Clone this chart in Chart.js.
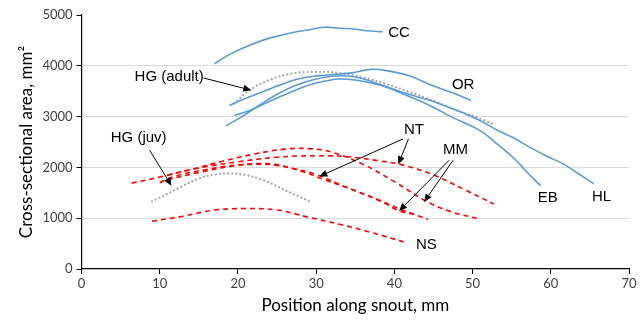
<!DOCTYPE html>
<html><head><meta charset="utf-8">
<script src="https://cdn.jsdelivr.net/npm/chart.js@4/dist/chart.umd.min.js"></script>
<style>html,body{margin:0;padding:0;background:#fff}#wrap{width:644px;height:322px}</style>
</head><body><div id="wrap"><canvas id="c" width="644" height="322"></canvas></div>
<script>
// x positions (mm) and cross-sectional area (mm^2) per specimen
const ccX = [17, 19, 21.3, 23.5, 25.5, 27.5, 29.5, 31, 33, 35, 36.5, 38.5];
const ccY = [4040, 4230, 4390, 4520, 4600, 4670, 4720, 4760, 4740, 4720, 4690, 4670];
const orX = [18.9, 21, 23, 25, 27.2, 29.5, 31.5, 34.5, 37, 39.2, 42, 44.7, 47.6, 49.8];
const orY = [3220, 3360, 3480, 3600, 3720, 3790, 3820, 3860, 3930, 3900, 3800, 3620, 3460, 3320];
const ebX = [19.5, 21.5, 23.5, 25.5, 27.5, 29.5, 31.5, 33, 35, 37, 39, 41.5, 44.5, 47.5, 51, 53, 55.3, 57, 58.7];
const ebY = [3020, 3120, 3260, 3400, 3530, 3640, 3710, 3740, 3720, 3660, 3580, 3420, 3220, 2980, 2720, 2480, 2180, 1900, 1640];
const hlX = [18.5, 20.5, 22.5, 25, 27.5, 30, 32.5, 35, 38, 41, 44.5, 47, 49, 51, 53.3, 55.5, 57.5, 59.5, 61.7, 63.5, 65.5];
const hlY = [2820, 3000, 3200, 3440, 3620, 3740, 3800, 3780, 3640, 3480, 3320, 3180, 3060, 2920, 2720, 2560, 2380, 2220, 2060, 1880, 1680];
const hgAdultX = [19.5, 21.5, 24, 27, 30, 33, 36, 39, 42, 45, 48, 50.5, 52.5];
const hgAdultY = [3260, 3520, 3720, 3850, 3880, 3860, 3770, 3640, 3480, 3310, 3120, 2990, 2860];
const hgJuvX = [9, 11, 13, 15, 17, 19, 21, 23, 25, 27, 29.5];
const hgJuvY = [1330, 1480, 1640, 1780, 1860, 1880, 1850, 1760, 1630, 1480, 1310];
const nt1X = [11, 15, 20, 25, 30, 34, 38, 41, 45, 49, 52.7];
const nt1Y = [1850, 1990, 2110, 2200, 2230, 2210, 2130, 2050, 1850, 1560, 1280];
const nt2X = [10, 12, 16, 20, 24, 27, 30, 34, 38, 41, 44.3];
const nt2Y = [1700, 1830, 1960, 2050, 2070, 1980, 1860, 1600, 1360, 1160, 980];
const mm1X = [6.4, 10, 14, 18, 22, 26, 29, 32, 36, 40, 44, 47, 51];
const mm1Y = [1690, 1810, 1960, 2120, 2260, 2360, 2370, 2300, 2060, 1720, 1340, 1140, 980];
const mm2X = [11, 15, 19, 22, 25, 28, 31, 35, 38.7, 40.5, 42.5];
const mm2Y = [1760, 1900, 2020, 2060, 2040, 1930, 1760, 1540, 1300, 1150, 1080];
const nsX = [9, 13, 17, 21, 25, 29, 33, 37, 41.5];
const nsY = [940, 1040, 1160, 1190, 1160, 1020, 880, 720, 520];

const xTicks = [0, 10, 20, 30, 40, 50, 60, 70];
const yTicks = [0, 1000, 2000, 3000, 4000, 5000];

// label text with anchor positions in data units
const labelText = ["CC", "HG (adult)", "OR", "HG (juv)", "NT", "MM", "EB", "HL", "NS"];
const labelX = [40.6, 11.2, 48.8, 7.3, 42.5, 47.8, 59.6, 66.5, 44.1];
const labelY = [4640, 3780, 3620, 2580, 2740, 2340, 1400, 1420, 480];
// arrows: tail (x,y) -> head (x,y) in data units
const arrowTailX = [15.6, 8.7, 41.8, 41.1, 47.0, 47.5];
const arrowTailY = [3760, 2340, 2560, 2560, 2140, 2140];
const arrowHeadX = [21.7, 11.5, 40.5, 30.4, 40.6, 43.8];
const arrowHeadY = [3520, 1640, 2060, 1820, 1140, 1320];

function pts(xs, ys) { return xs.map((x, i) => ({x: x, y: ys[i]})); }
const BLUE = '#5B9BD5', RED = '#FF0000', GRAY = '#A5A5A5';
function blue(d) { return {data: d, borderColor: BLUE, borderWidth: 1.6, pointRadius: 0, tension: 0.4, fill: false}; }
function red(d) { return {data: d, borderColor: RED, borderWidth: 1.6, borderDash: [5, 4], pointRadius: 0, tension: 0.4, fill: false}; }
function gray(d) { return {data: d, borderColor: GRAY, borderWidth: 2.2, borderDash: [0.1, 4], borderCapStyle: 'round', pointRadius: 0, tension: 0.4, fill: false}; }

const annot = {
  id: 'annot',
  afterDatasetsDraw(chart) {
    const ctx = chart.ctx, sx = chart.scales.x, sy = chart.scales.y;
    ctx.save();
    ctx.fillStyle = '#000';
    ctx.font = '15px "Liberation Sans", Arial, sans-serif';
    ctx.textAlign = 'center';
    ctx.textBaseline = 'middle';
    labelText.forEach((t, i) => ctx.fillText(t, sx.getPixelForValue(labelX[i]), sy.getPixelForValue(labelY[i])));
    ctx.strokeStyle = '#000';
    ctx.lineWidth = 1;
    arrowTailX.forEach((tx, i) => {
      const x0 = sx.getPixelForValue(tx), y0 = sy.getPixelForValue(arrowTailY[i]);
      const x1 = sx.getPixelForValue(arrowHeadX[i]), y1 = sy.getPixelForValue(arrowHeadY[i]);
      const a = Math.atan2(y1 - y0, x1 - x0), L = 8, W = 3.5;
      const bx = x1 - L * Math.cos(a), by = y1 - L * Math.sin(a);
      ctx.beginPath(); ctx.moveTo(x0, y0); ctx.lineTo(bx, by); ctx.stroke();
      ctx.beginPath(); ctx.moveTo(x1, y1);
      ctx.lineTo(bx + W * Math.sin(a), by - W * Math.cos(a));
      ctx.lineTo(bx - W * Math.sin(a), by + W * Math.cos(a));
      ctx.closePath(); ctx.fill();
    });
    ctx.restore();
  }
};

const tickFont = {family: 'Lato, "Open Sans", sans-serif', size: 13};
const titleFont = {family: 'Lato, "Open Sans", sans-serif', size: 17};

new Chart(document.getElementById('c'), {
  type: 'line',
  data: {
    datasets: [
      blue(pts(ccX, ccY)), blue(pts(orX, orY)), blue(pts(ebX, ebY)), blue(pts(hlX, hlY)),
      gray(pts(hgAdultX, hgAdultY)), gray(pts(hgJuvX, hgJuvY)),
      red(pts(nt1X, nt1Y)), red(pts(nt2X, nt2Y)), red(pts(mm1X, mm1Y)), red(pts(mm2X, mm2Y)), red(pts(nsX, nsY))
    ]
  },
  options: {
    responsive: false,
    animation: false,
    layout: {padding: {left: 16, right: 15, top: 15, bottom: 6}},
    plugins: {legend: {display: false}, tooltip: {enabled: false}},
    scales: {
      x: {
        type: 'linear', min: 0, max: 70,
        afterBuildTicks: s => { s.ticks = xTicks.map(v => ({value: v})); },
        grid: {drawOnChartArea: false, color: '#000', tickLength: 5, tickColor: '#000'},
        border: {color: '#000', width: 1.2},
        ticks: {color: '#404040', font: tickFont, padding: 2, callback: v => String(v)},
        title: {display: true, text: 'Position along snout, mm', color: '#000', font: titleFont, padding: {top: 2, bottom: 0}}
      },
      y: {
        type: 'linear', min: 0, max: 5000,
        afterBuildTicks: s => { s.ticks = yTicks.map(v => ({value: v})); },
        grid: {color: c => (c.tick && (c.tick.value === 0 || c.tick.value === 5000)) ? 'rgba(0,0,0,0)' : '#D9D9D9', tickLength: 5, tickColor: '#000', lineWidth: 1},
        border: {color: '#000', width: 1.2},
        ticks: {color: '#404040', font: tickFont, padding: 4, callback: v => String(v)},
        title: {display: true, text: 'Cross-sectional area, mm²', color: '#000', font: titleFont, padding: {top: 0, bottom: 2}}
      }
    }
  },
  plugins: [annot]
});
</script>
</body></html>
